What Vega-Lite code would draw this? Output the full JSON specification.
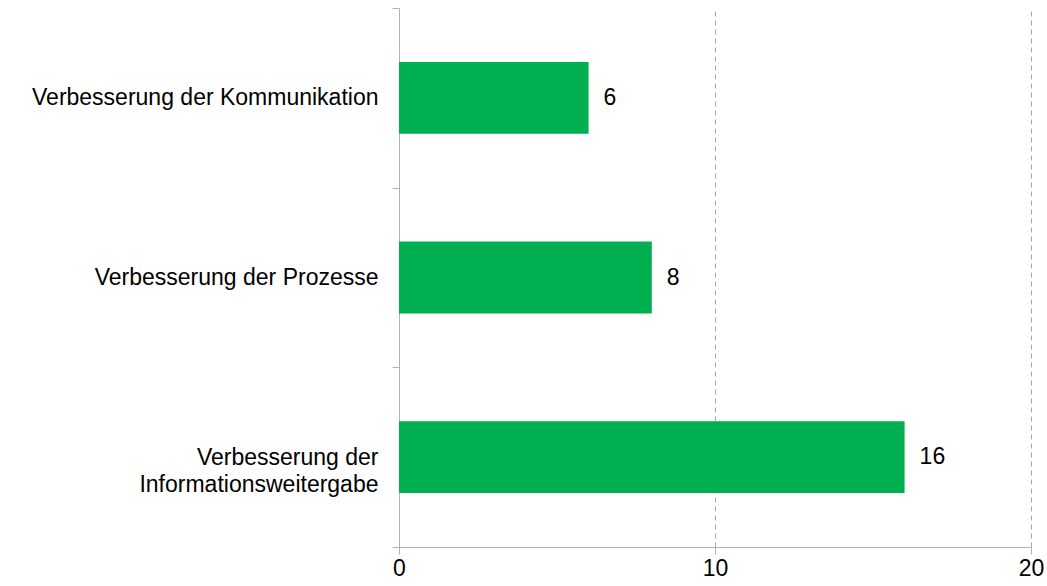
{
  "$schema": "https://vega.github.io/schema/vega-lite/v6.json",
  "width": 632,
  "height": 539,
  "autosize": {"type": "none"},
  "padding": {"left": 399, "top": 8, "right": 16, "bottom": 39},
  "background": "white",
  "config": {
    "view": {"stroke": null},
    "font": "Liberation Sans"
  },
  "data": {
    "values": [
      {"kategorie": "Verbesserung der Kommunikation", "wert": 6},
      {"kategorie": "Verbesserung der Prozesse", "wert": 8},
      {"kategorie": "Verbesserung der Informationsweitergabe", "wert": 16}
    ]
  },
  "encoding": {
    "y": {
      "field": "kategorie",
      "type": "nominal",
      "sort": null,
      "scale": {"paddingInner": 0, "paddingOuter": 0},
      "axis": {
        "title": null,
        "tickBand": "extent",
        "domainColor": "#b3b3b3",
        "tickColor": "#b3b3b3",
        "tickSize": 7,
        "labelFontSize": 23,
        "labelColor": "#000000",
        "labelPadding": 14,
        "labelLimit": 420,
        "labelExpr": "datum.value == 'Verbesserung der Informationsweitergabe' ? ['Verbesserung der', 'Informationsweitergabe'] : datum.value",
        "labelLineHeight": 27,
        "grid": false
      }
    },
    "x": {
      "field": "wert",
      "type": "quantitative",
      "scale": {"domain": [0, 20], "nice": false},
      "axis": {
        "title": null,
        "values": [0, 10, 20],
        "grid": true,
        "gridDash": [5, 4],
        "gridColor": "#a6a6a6",
        "domainColor": "#b3b3b3",
        "tickColor": "#b3b3b3",
        "tickSize": 7,
        "labelFontSize": 23,
        "labelColor": "#000000",
        "labelPadding": 3,
        "labelFlush": false
      }
    }
  },
  "layer": [
    {"mark": {"type": "bar", "color": "#00B050", "height": {"band": 0.4}}},
    {
      "mark": {"type": "text", "align": "left", "dx": 15, "fontSize": 23, "color": "#000000"},
      "encoding": {"text": {"field": "wert", "type": "quantitative"}}
    }
  ]
}
